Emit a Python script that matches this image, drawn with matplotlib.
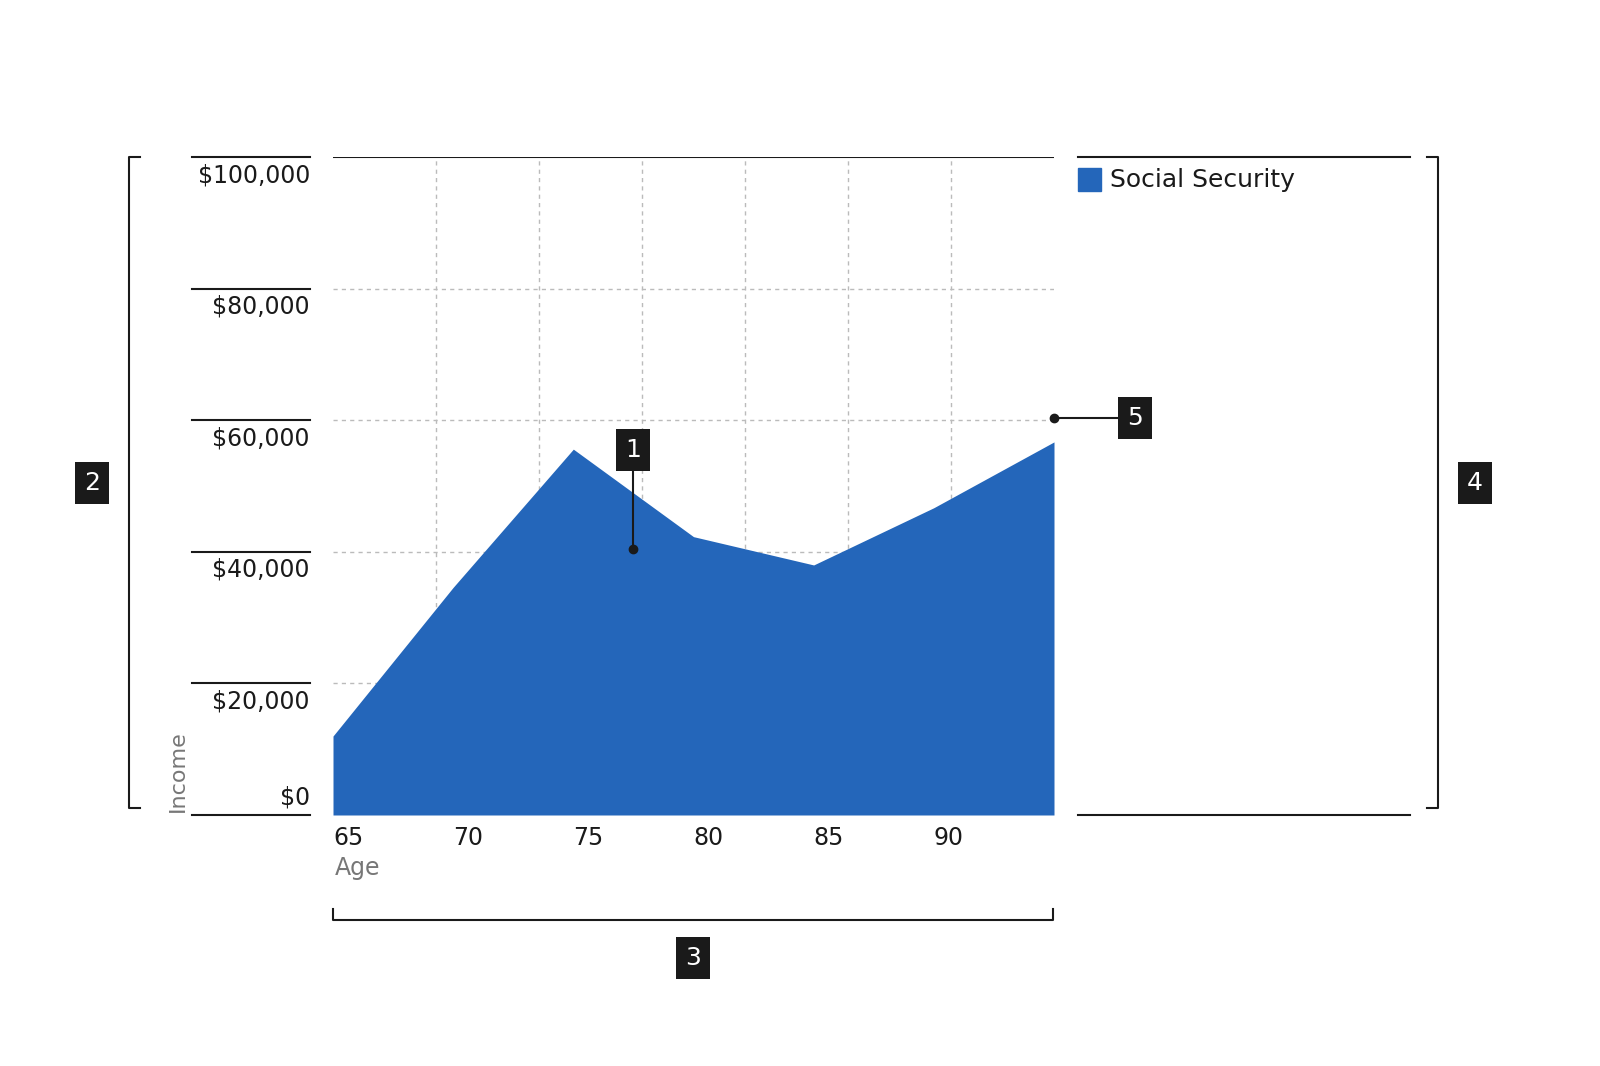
import matplotlib.pyplot as plt

ages = [65, 70, 75, 80, 85, 90, 95]
income = [12000, 34600, 55600, 42300, 38000, 46700, 56700]
y_ticks = [0, 20000, 40000, 60000, 80000, 100000]
y_labels = ['$0', '$20,000', '$40,000', '$60,000', '$80,000', '$100,000']
x_ticks = [65, 70, 75, 80, 85, 90]

plt.rcParams['font.family'] = ['Liberation Sans Narrow', 'DejaVu Sans']
W, H = 1600, 1066
blue = '#2466ba'
dark = '#1a1a1a'

fig = plt.figure(figsize=(16, 10.66), dpi=100)
ax = fig.add_axes([333 / W, (H - 815) / H, 721 / W, 658 / H])
ax.fill_between(ages, income, 0, color=blue, lw=0, zorder=3)
ax.set_xlim(65, 95)
ax.set_ylim(0, 100000)
for y in y_ticks[1:-1]:
    ax.axhline(y, color='#bbbbbb', ls=(0, (3, 3)), lw=1, zorder=1)
for i in range(1, 7):
    ax.axvline(65 + 30 * i / 7, color='#bbbbbb', ls=(0, (3, 3)), lw=1, zorder=1)
ax.axhline(100000, color=dark, lw=1.5, zorder=4)
for s in ax.spines.values():
    s.set_visible(False)
ax.set_yticks([])
ax.set_xticks(x_ticks)
ax.set_xticklabels([str(a) for a in x_ticks], fontsize=17, color=dark, ha='left')
ax.tick_params(axis='x', length=0, pad=8)

# overlay in pixel coordinates
ov = fig.add_axes([0, 0, 1, 1], zorder=10)
ov.set_xlim(0, W)
ov.set_ylim(H, 0)
ov.axis('off')
ov.patch.set_alpha(0)

for v, lab in zip(y_ticks, y_labels):
    py = 815 - v / 100000 * 658
    ov.plot([192, 310], [py, py], color=dark, lw=1.5)
    if v == 0:
        ov.text(310, py - 6, lab, ha='right', va='bottom', fontsize=17, color=dark)
    else:
        ov.text(310, py + 6, lab, ha='right', va='top', fontsize=17, color=dark)
ov.text(178, 812, 'Income', rotation=90, ha='center', va='bottom', fontsize=16, color='#777777')
ov.text(335, 856, 'Age', ha='left', va='top', fontsize=17, color='#777777')

# legend panel
ov.plot([1078, 1410], [157, 157], color=dark, lw=1.5)
ov.plot([1078, 1410], [815, 815], color=dark, lw=1.5)
ov.add_patch(plt.Rectangle((1078, 168), 23, 23, color=blue))
ov.text(1110, 180, 'Social Security', va='center', fontsize=18, color=dark)

# brackets
ov.plot([140, 129, 129, 140], [157, 157, 808, 808], color=dark, lw=1.5)
ov.plot([1427, 1438, 1438, 1427], [157, 157, 808, 808], color=dark, lw=1.5)
ov.plot([333, 333, 1053, 1053], [909, 920, 920, 909], color=dark, lw=1.5)

# callouts
ov.plot([633, 633], [468, 549], color=dark, lw=1.5)
ov.plot([633], [549], 'o', color=dark, ms=6)
ov.plot([1054, 1117], [418, 418], color=dark, lw=1.5)
ov.plot([1054], [418], 'o', color=dark, ms=6)

def badge(x, y, t):
    ov.text(x, y, t, ha='center', va='center', fontsize=18, color='white',
            bbox=dict(boxstyle='square,pad=0.35', fc=dark, ec='none'))

badge(633, 450, '1')
badge(92, 483, '2')
badge(693, 958, '3')
badge(1475, 483, '4')
badge(1135, 418, '5')

fig.savefig('out.png', dpi=100)
